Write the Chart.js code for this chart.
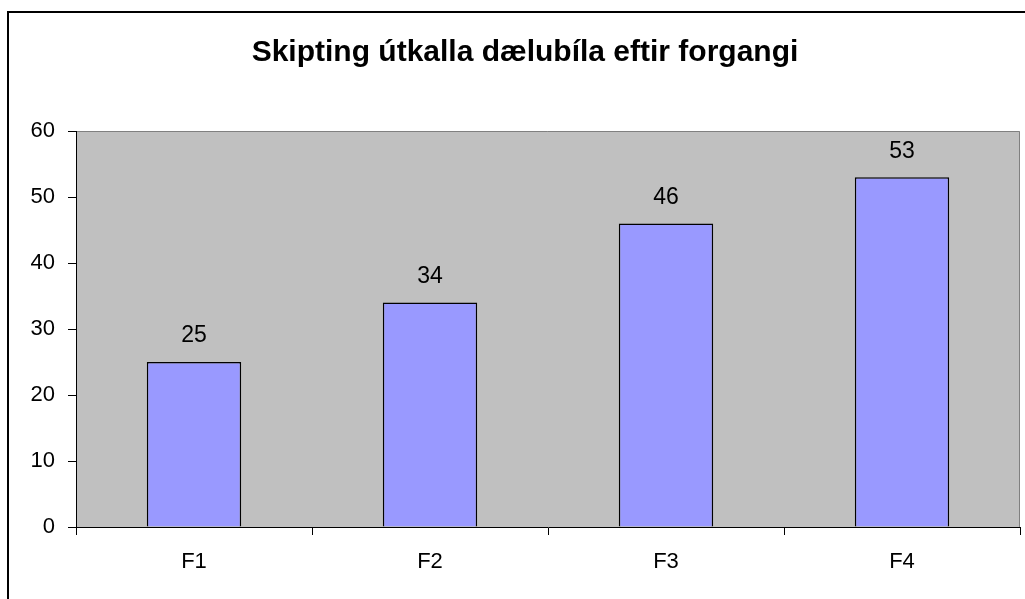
<!DOCTYPE html>
<html>
<head>
<meta charset="utf-8">
<script src="https://cdn.jsdelivr.net/npm/chart.js@4.4.1/dist/chart.umd.min.js"></script>
<style>
html,body{margin:0;padding:0;background:#fff;overflow:hidden;}
#c{display:block;}
</style>
</head>
<body>
<canvas id="c" width="1025" height="599"></canvas>
<script>
const categories = ['F1', 'F2', 'F3', 'F4'];
const values = [25, 34, 46, 53];
const yTicks = [0, 10, 20, 30, 40, 50, 60];
const titleText = 'Skipting útkalla dælubíla eftir forgangi';

const FONT = '"Liberation Sans", Arial, sans-serif';

const decor = {
  id: 'decor',
  beforeDraw(chart) {
    const ctx = chart.ctx, a = chart.chartArea;
    ctx.save();
    ctx.fillStyle = '#ffffff';
    ctx.fillRect(0, 0, chart.width, chart.height);
    ctx.strokeStyle = '#000000';
    ctx.lineWidth = 2;
    ctx.strokeRect(8, 12, 1200, 800);
    ctx.fillStyle = '#C0C0C0';
    ctx.fillRect(a.left, a.top, a.right - a.left, a.bottom - a.top);
    ctx.strokeStyle = '#808080';
    ctx.lineWidth = 1;
    ctx.beginPath();
    ctx.moveTo(a.left, a.top + 0.5);
    ctx.lineTo(a.right - 0.5, a.top + 0.5);
    ctx.lineTo(a.right - 0.5, a.bottom);
    ctx.stroke();
    ctx.restore();
  },
  afterDatasetsDraw(chart) {
    const ctx = chart.ctx;
    const meta = chart.getDatasetMeta(0);
    ctx.save();
    ctx.fillStyle = '#000';
    ctx.font = '23px ' + FONT;
    ctx.textAlign = 'center';
    ctx.textBaseline = 'middle';
    meta.data.forEach((bar, i) => {
      ctx.fillText(String(values[i]), bar.x, bar.y - 26);
    });
    ctx.restore();
  }
};

new Chart(document.getElementById('c'), {
  type: 'bar',
  data: {
    labels: categories,
    datasets: [{
      data: values,
      backgroundColor: '#9999FF',
      borderColor: '#000000',
      borderWidth: 1.5,
      barPercentage: 0.4,
      categoryPercentage: 1.0
    }]
  },
  options: {
    responsive: false,
    animation: false,
    layout: { padding: { left: 30, right: 5, top: 0, bottom: 0 } },
    plugins: {
      legend: { display: false },
      tooltip: { enabled: false },
      title: {
        display: true,
        text: titleText,
        color: '#000',
        font: { family: FONT, size: 30, weight: 'bold', lineHeight: 1.2 },
        padding: { top: 35, bottom: 60 }
      }
    },
    scales: {
      x: {
        offset: true,
        grid: { display: true, offset: true, drawOnChartArea: false, tickLength: 8, color: '#000', lineWidth: 1 },
        border: { display: true, color: '#000', width: 1 },
        ticks: { color: '#000', font: { family: FONT, size: 22 }, padding: 14 },
        afterFit(s) { s.height = 72; }
      },
      y: {
        min: 0,
        max: 60,
        afterBuildTicks(s) { s.ticks = yTicks.map(v => ({ value: v })); },
        grid: { display: true, drawOnChartArea: false, tickLength: 8, color: '#000', lineWidth: 1 },
        border: { display: true, color: '#000', width: 1 },
        ticks: { color: '#000', font: { family: FONT, size: 22 }, padding: 13 },
        afterFit(s) { s.width = 46; }
      }
    }
  },
  plugins: [decor]
});
</script>
</body>
</html>
